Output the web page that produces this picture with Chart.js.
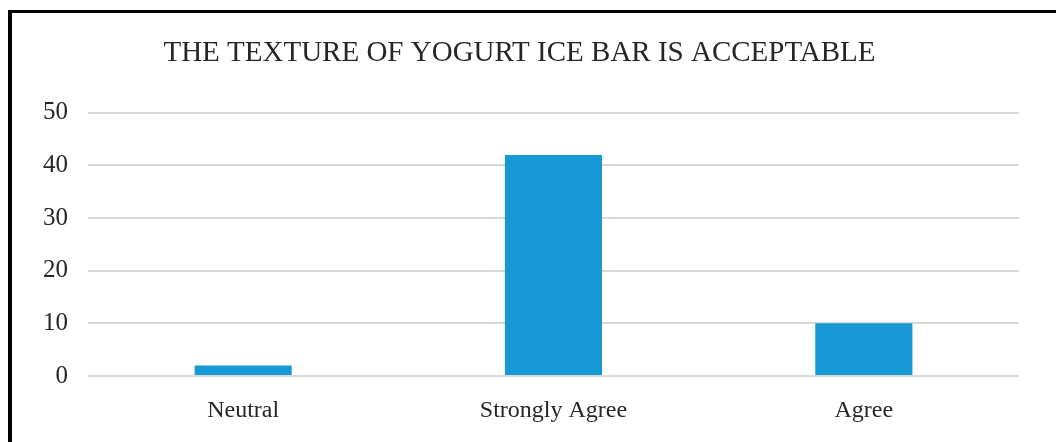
<!DOCTYPE html>
<html>
<head>
<meta charset="utf-8">
<script src="https://cdn.jsdelivr.net/npm/chart.js@4.4.0/dist/chart.umd.min.js"></script>
<style>
  html, body { margin: 0; padding: 0; background: #fff; overflow: hidden; }
  #wrap { position: relative; width: 1056px; height: 442px; }
  #frame {
    position: absolute; left: 8px; top: 10px; width: 1100px; height: 500px;
    border-top: 3px solid #000; border-left: 4px solid #000; pointer-events: none;
  }
</style>
</head>
<body>
<div id="wrap">
  <canvas id="textureChart" width="1056" height="442"></canvas>
  <div id="frame"></div>
</div>
<script>
const chartTitle = 'THE TEXTURE OF YOGURT ICE BAR IS ACCEPTABLE';
const categories = ['Neutral', 'Strongly Agree', 'Agree'];
const responses = [2, 42, 10];
const yTicks = [0, 10, 20, 30, 40, 50];

const ctx = document.getElementById('textureChart').getContext('2d');
const serif = "'Liberation Serif', 'DejaVu Serif', serif";

new Chart(ctx, {
    type: 'bar',
    data: {
        labels: categories,
        datasets: [{
            data: responses,
            backgroundColor: '#1799d6',
            barPercentage: 0.313,
            categoryPercentage: 1
        }]
    },
    options: {
        responsive: false,
        animation: false,
        layout: { padding: { left: 20, right: 37, top: 0, bottom: 0 } },
        plugins: {
            legend: { display: false },
            tooltip: { enabled: false },
            title: {
                display: true,
                text: chartTitle,
                color: '#262626',
                font: { family: serif, size: 29, weight: 'normal' },
                padding: { top: 36, bottom: 42 }
            }
        },
        scales: {
            x: {
                grid: { display: false, drawTicks: false },
                border: { display: false },
                ticks: {
                    color: '#262626',
                    padding: 20,
                    font: { family: serif, size: 24 }
                },
                afterFit: scale => { scale.height = 66; }
            },
            y: {
                min: 0,
                max: 50,
                afterBuildTicks: scale => {
                    scale.ticks = yTicks.map(v => ({ value: v }));
                },
                grid: { color: '#d9d9d9', lineWidth: 2, drawTicks: false },
                border: { display: false },
                ticks: {
                    color: '#262626',
                    padding: 20,
                    font: { family: serif, size: 25 }
                },
                afterFit: scale => { scale.width = 68; }
            }
        }
    }
});
</script>
</body>
</html>
